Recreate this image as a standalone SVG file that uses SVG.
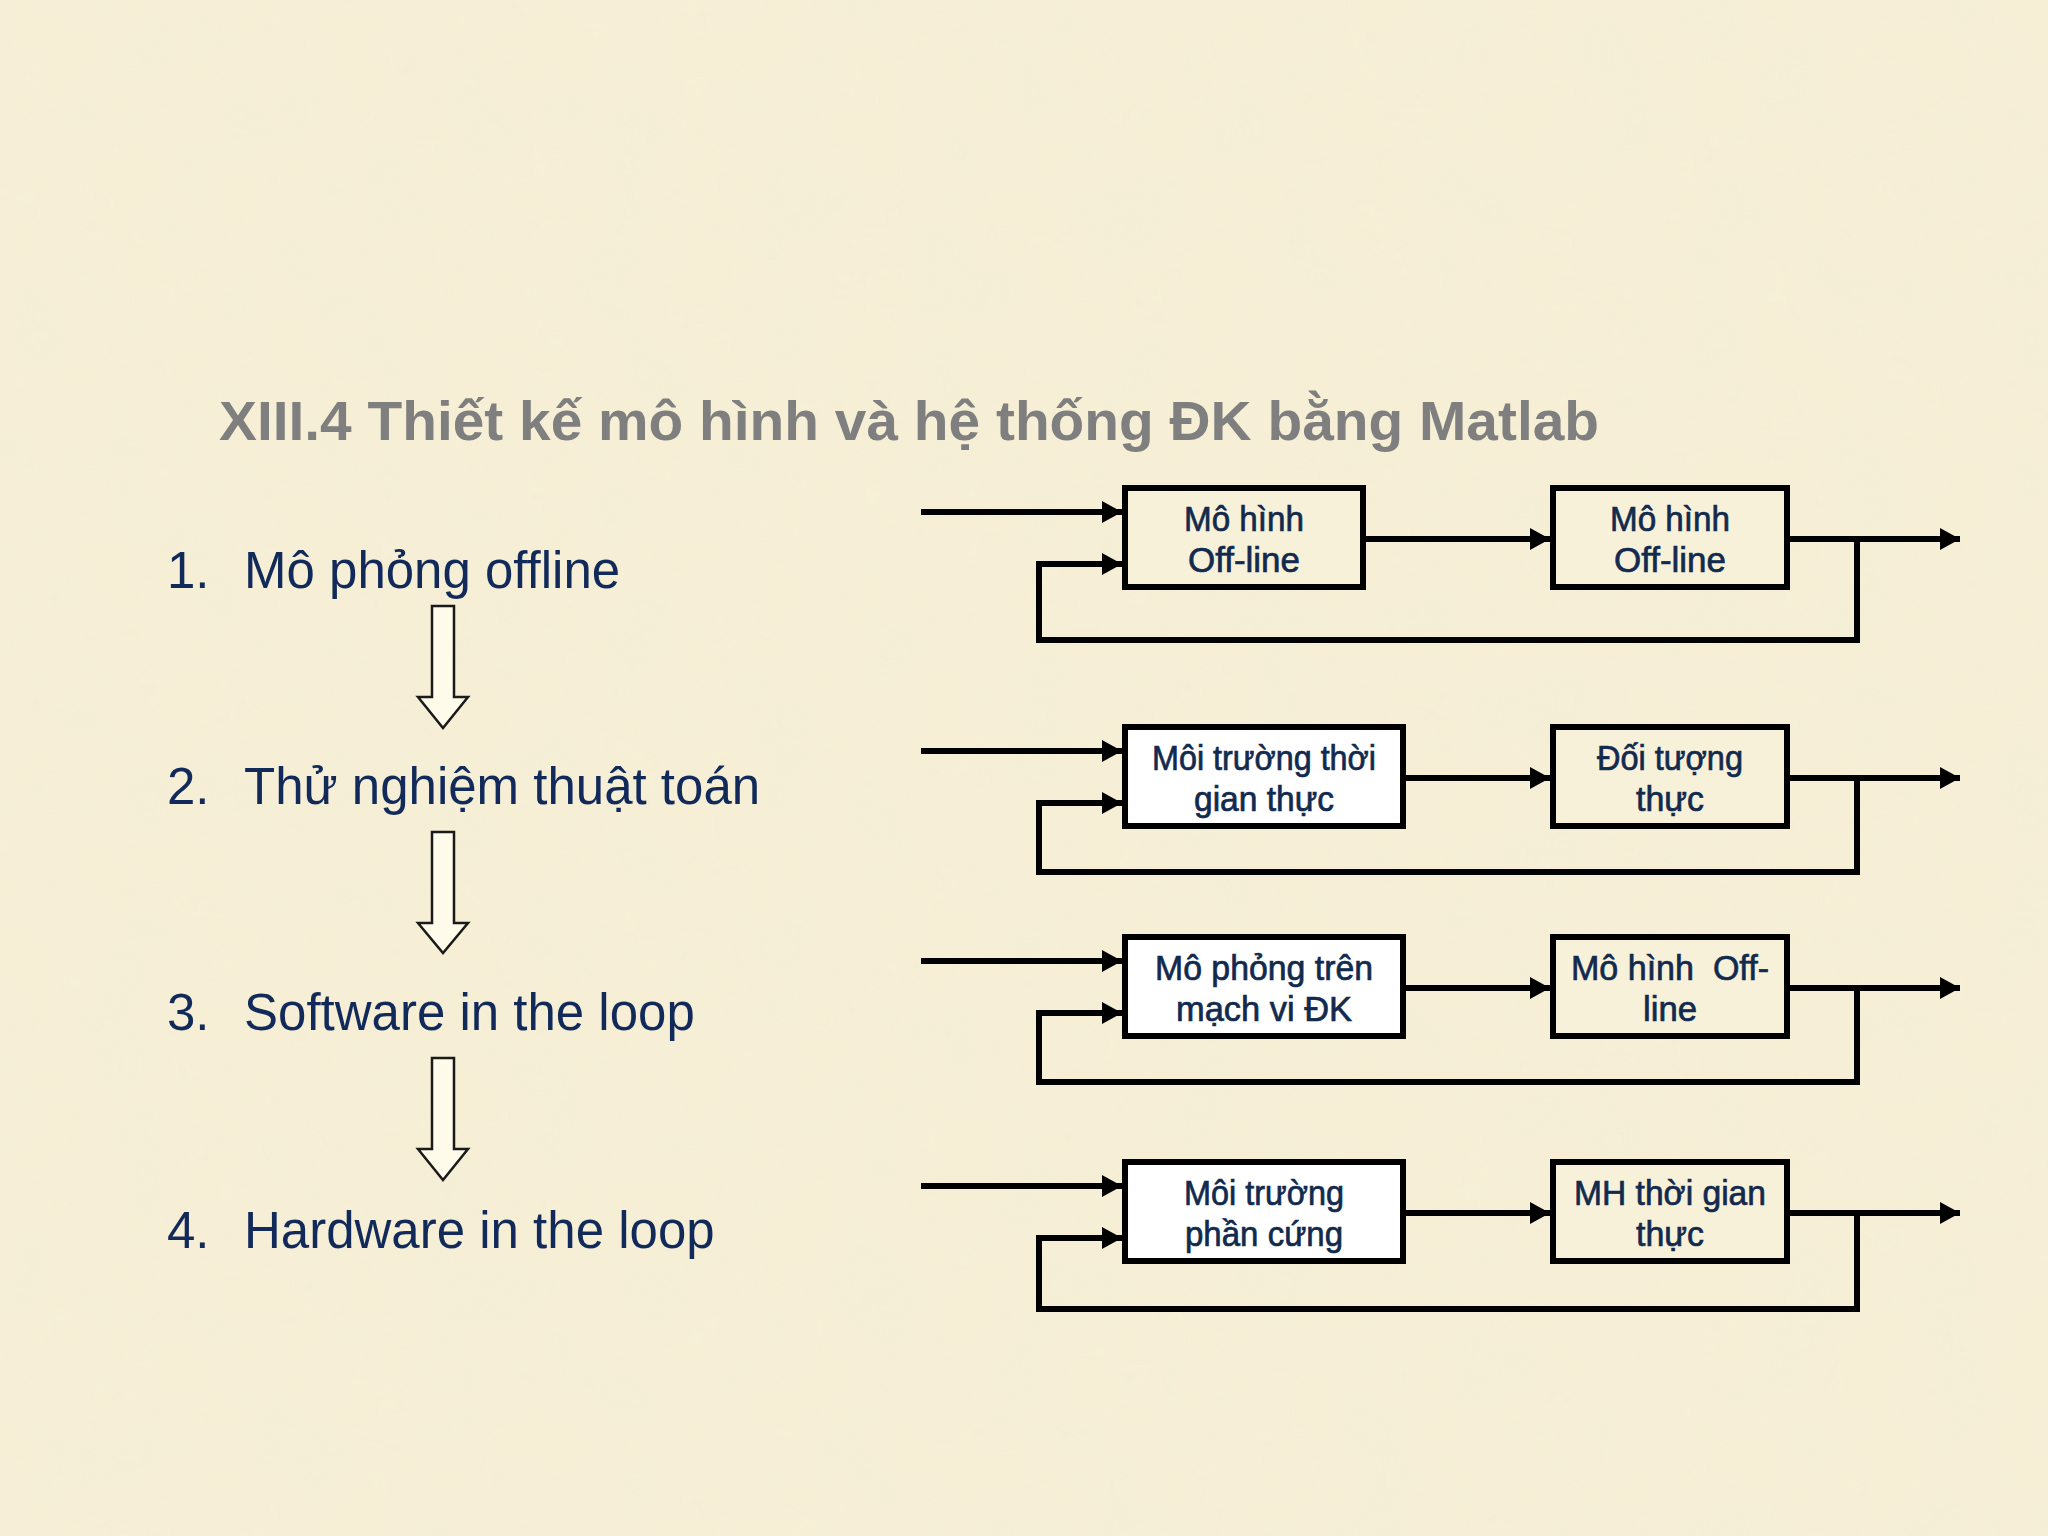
<svg xmlns="http://www.w3.org/2000/svg" width="2048" height="1536" viewBox="0 0 2048 1536">
  <defs>
    <style>
      .title { font-family: "Liberation Sans", Arial, sans-serif; font-weight: bold; font-size: 56px; fill: #7f7f7f; }
      .item { font-family: "Liberation Sans", Arial, sans-serif; font-size: 51px; fill: #112a5a; }
      .box { stroke: #000; stroke-width: 6; }
      .cream { fill: #f8f1da; }
      .white { fill: #ffffff; }
      .lbl { font-family: "Liberation Sans", Arial, sans-serif; font-size: 35px; fill: #112a4e; text-anchor: middle; stroke: #112a4e; stroke-width: 0.7; }
      .wire { fill: none; stroke: #000; stroke-width: 6; }
      .hollow { fill: #fffbea; stroke: #1a1a1a; stroke-width: 2.5; stroke-linejoin: miter; }
    </style>
    <marker id="ah" viewBox="0 0 20 22" refX="20" refY="11" markerWidth="20" markerHeight="22" markerUnits="userSpaceOnUse" orient="auto">
      <path d="M0,0 L20,11 L0,22 z" fill="#000"/>
    </marker>
    <filter id="tex" x="0" y="0" width="100%" height="100%">
      <feTurbulence type="fractalNoise" baseFrequency="0.012" numOctaves="3" seed="4"/>
      <feColorMatrix type="matrix" values="0 0 0 0 0.88  0 0 0 0 0.84  0 0 0 0 0.70  0 0 0 0.35 -0.1"/>
    </filter>
  </defs>

  <rect x="0" y="0" width="2048" height="1536" fill="#f6efd6"/>
  <rect x="0" y="0" width="2048" height="1536" filter="url(#tex)" opacity="0.55"/>

  <text class="title" x="219" y="440" textLength="1380" lengthAdjust="spacingAndGlyphs">XIII.4 Thiết kế mô hình và hệ thống ĐK bằng Matlab</text>

  <g id="list">
    <g id="item1"><text class="item" x="167" y="588">1.</text><text class="item" x="244" y="588">Mô phỏng offline</text></g>
    <g id="item2"><text class="item" x="167" y="804">2.</text><text class="item" x="244" y="804">Thử nghiệm thuật toán</text></g>
    <g id="item3"><text class="item" x="167" y="1030">3.</text><text class="item" x="244" y="1030">Software in the loop</text></g>
    <g id="item4"><text class="item" x="167" y="1248">4.</text><text class="item" x="244" y="1248">Hardware in the loop</text></g>
  </g>

  <g id="down-arrows">
    <path class="hollow" d="M432,606 H454 V697 H468 L443,728 L418,697 H432 Z"/>
    <path class="hollow" d="M432,832 H454 V923 H468 L443,953 L418,923 H432 Z"/>
    <path class="hollow" d="M432,1058 H454 V1149 H468 L443,1180 L418,1149 H432 Z"/>
  </g>

  <g id="row1-box1"><rect class="box cream" x="1125" y="488" width="238" height="99"/>
    <text class="lbl" x="1244" y="531" textLength="120" lengthAdjust="spacingAndGlyphs">Mô hình</text><text class="lbl" x="1244" y="572" textLength="112" lengthAdjust="spacingAndGlyphs">Off-line</text></g>
  <g id="row1-box2"><rect class="box cream" x="1553" y="488" width="234" height="99"/>
    <text class="lbl" x="1670" y="531" textLength="120" lengthAdjust="spacingAndGlyphs">Mô hình</text><text class="lbl" x="1670" y="572" textLength="112" lengthAdjust="spacingAndGlyphs">Off-line</text></g>

  <g id="row2-box1"><rect class="box white" x="1125" y="727" width="278" height="99"/>
    <text class="lbl" x="1264" y="770" textLength="224" lengthAdjust="spacingAndGlyphs">Môi trường thời</text><text class="lbl" x="1264" y="811" textLength="140" lengthAdjust="spacingAndGlyphs">gian thực</text></g>
  <g id="row2-box2"><rect class="box cream" x="1553" y="727" width="234" height="99"/>
    <text class="lbl" x="1670" y="770" textLength="146" lengthAdjust="spacingAndGlyphs">Đối tượng</text><text class="lbl" x="1670" y="811" textLength="68" lengthAdjust="spacingAndGlyphs">thực</text></g>

  <g id="row3-box1"><rect class="box white" x="1125" y="937" width="278" height="99"/>
    <text class="lbl" x="1264" y="980" textLength="218" lengthAdjust="spacingAndGlyphs">Mô phỏng trên</text><text class="lbl" x="1264" y="1021" textLength="176" lengthAdjust="spacingAndGlyphs">mạch vi ĐK</text></g>
  <g id="row3-box2"><rect class="box cream" x="1553" y="937" width="234" height="99"/>
    <text class="lbl" x="1670" y="980" textLength="198" lengthAdjust="spacingAndGlyphs">Mô hình&#160; Off-</text><text class="lbl" x="1670" y="1021" textLength="54" lengthAdjust="spacingAndGlyphs">line</text></g>

  <g id="row4-box1"><rect class="box white" x="1125" y="1162" width="278" height="99"/>
    <text class="lbl" x="1264" y="1205" textLength="160" lengthAdjust="spacingAndGlyphs">Môi trường</text><text class="lbl" x="1264" y="1246" textLength="158" lengthAdjust="spacingAndGlyphs">phần cứng</text></g>
  <g id="row4-box2"><rect class="box cream" x="1553" y="1162" width="234" height="99"/>
    <text class="lbl" x="1670" y="1205" textLength="192" lengthAdjust="spacingAndGlyphs">MH thời gian</text><text class="lbl" x="1670" y="1246" textLength="68" lengthAdjust="spacingAndGlyphs">thực</text></g>

  <g id="connectors">
    <path class="wire" d="M921,512 H1122" marker-end="url(#ah)"/>
    <path class="wire" d="M1365,539 H1550" marker-end="url(#ah)"/>
    <path class="wire" d="M1790,539 H1960" marker-end="url(#ah)"/>
    <path class="wire" d="M1857,539 V640 H1039 V564 H1122" marker-end="url(#ah)"/>

    <path class="wire" d="M921,751 H1122" marker-end="url(#ah)"/>
    <path class="wire" d="M1405,778 H1550" marker-end="url(#ah)"/>
    <path class="wire" d="M1790,778 H1960" marker-end="url(#ah)"/>
    <path class="wire" d="M1857,778 V872 H1039 V803 H1122" marker-end="url(#ah)"/>

    <path class="wire" d="M921,961 H1122" marker-end="url(#ah)"/>
    <path class="wire" d="M1405,988 H1550" marker-end="url(#ah)"/>
    <path class="wire" d="M1790,988 H1960" marker-end="url(#ah)"/>
    <path class="wire" d="M1857,988 V1082 H1039 V1013 H1122" marker-end="url(#ah)"/>

    <path class="wire" d="M921,1186 H1122" marker-end="url(#ah)"/>
    <path class="wire" d="M1405,1213 H1550" marker-end="url(#ah)"/>
    <path class="wire" d="M1790,1213 H1960" marker-end="url(#ah)"/>
    <path class="wire" d="M1857,1213 V1309 H1039 V1238 H1122" marker-end="url(#ah)"/>
  </g>
</svg>
